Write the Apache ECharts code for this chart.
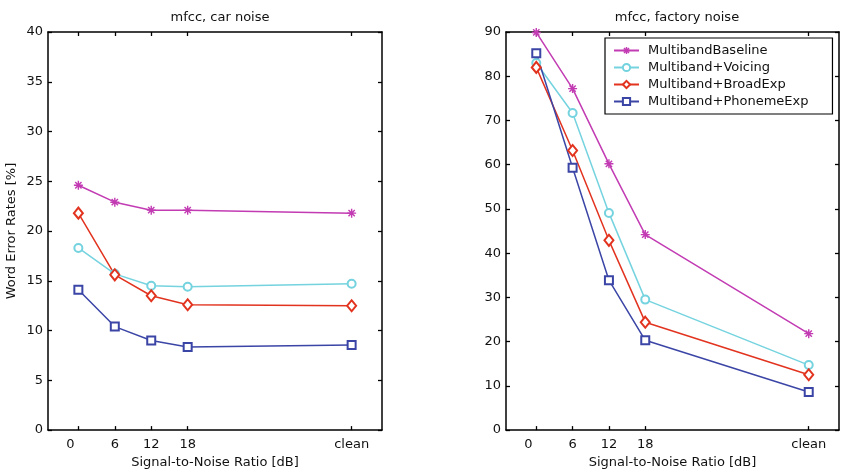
<!DOCTYPE html>
<html>
<head>
<meta charset="utf-8">
<script src="https://cdn.jsdelivr.net/npm/echarts@6/dist/echarts.min.js"></script>
<style>
  html, body { margin: 0; padding: 0; background: #fff; }
  #chart { width: 842px; height: 474px; }
</style>
</head>
<body>
<div id="chart"></div>
<script>
// SNR conditions: tick labels and their positions on the x scale (clean drawn at 45)
const snrLabels = ['0', '6', '12', '18', 'clean'];
const snrPos = [0, 6, 12, 18, 45];

// Word error rates [%], car noise
const carBaseline = [24.6, 22.9, 22.1, 22.1, 21.8];
const carVoicing = [18.3, 15.7, 14.5, 14.4, 14.7];
const carBroadExp = [21.8, 15.6, 13.5, 12.6, 12.5];
const carPhonemeExp = [14.1, 10.4, 9.0, 8.35, 8.55];

// Word error rates [%], factory noise
const factoryBaseline = [89.9, 77.2, 60.2, 44.2, 21.8];
const factoryVoicing = [83.0, 71.7, 49.1, 29.5, 14.7];
const factoryBroadExp = [82.0, 63.2, 42.9, 24.4, 12.5];
const factoryPhonemeExp = [85.2, 59.3, 33.9, 20.3, 8.6];

const seriesNames = ['MultibandBaseline', 'Multiband+Voicing', 'Multiband+BroadExp', 'Multiband+PhonemeExp'];
const seriesColors = ['#c23bb3', '#74d3df', '#e2331f', '#3b45a6'];
const asterisk = 'path://M5,0L5,10M0,5L10,5M1.5,1.5L8.5,8.5M1.5,8.5L8.5,1.5';
const seriesSymbols = [asterisk, 'emptyCircle', 'emptyDiamond', 'emptyRect'];
const seriesSymbolSizes = [9, 8, [9, 11], 8];

const FONT = 'DejaVu Sans';
const yTicksCar = [0, 5, 10, 15, 20, 25, 30, 35, 40];
const yTicksFactory = [0, 10, 20, 30, 40, 50, 60, 70, 80, 90];

function pairs(vals) {
  return vals.map((v, i) => [snrPos[i], v]);
}

function xAxes(gridIndex) {
  const common = {
    gridIndex, type: 'value', min: -5, max: 50,
    axisLine: { show: true, onZero: false, lineStyle: { color: '#000', width: 1.5 } },
    axisTick: { show: true, inside: true, length: 4, customValues: snrPos, lineStyle: { color: '#000', width: 1.3 } },
    splitLine: { show: false }
  };
  return [
    Object.assign({}, common, {
      position: 'bottom',
      name: 'Signal-to-Noise Ratio [dB]', nameLocation: 'middle', nameGap: 25,
      nameTextStyle: { fontFamily: FONT, fontSize: 13, color: '#111' },
      axisLabel: {
        show: true, margin: 8, customValues: snrPos,
        fontFamily: FONT, fontSize: 13, color: '#111',
        formatter: v => {
          const idx = snrPos.indexOf(v);
          if (idx === 0) return '{shift|' + snrLabels[0] + '}';
          return idx >= 0 ? snrLabels[idx] : '';
        },
        rich: { shift: { fontFamily: FONT, fontSize: 13, color: '#111', padding: [0, 16, 0, 0] } }
      }
    }),
    Object.assign({}, common, { position: 'top', axisLabel: { show: false } })
  ];
}

function yAxes(gridIndex, max, ticks, name) {
  const common = {
    gridIndex, type: 'value', min: 0, max,
    axisLine: { show: true, onZero: false, lineStyle: { color: '#000', width: 1.5 } },
    axisTick: { show: true, inside: true, length: 4, customValues: ticks, lineStyle: { color: '#000', width: 1.3 } },
    splitLine: { show: false }
  };
  return [
    Object.assign({}, common, {
      position: 'left',
      name: name || '', nameLocation: 'middle', nameGap: 30,
      nameTextStyle: { fontFamily: FONT, fontSize: 13, color: '#111' },
      axisLabel: { show: true, margin: 5, customValues: ticks, fontFamily: FONT, fontSize: 13, color: '#111' }
    }),
    Object.assign({}, common, { position: 'right', axisLabel: { show: false } })
  ];
}

function lineSeries(nameIdx, vals, xIdx, yIdx) {
  const c = seriesColors[nameIdx];
  return {
    type: 'line', name: seriesNames[nameIdx],
    xAxisIndex: xIdx, yAxisIndex: yIdx,
    data: pairs(vals),
    symbol: seriesSymbols[nameIdx],
    symbolSize: seriesSymbolSizes[nameIdx],
    showAllSymbol: true,
    clip: false,
    animation: false,
    lineStyle: { color: c, width: 1.5 },
    itemStyle: { color: c, borderColor: c, borderWidth: 1.4 },
    emphasis: { disabled: true }
  };
}

const chart = echarts.init(document.getElementById('chart'), null, { renderer: 'canvas' });
chart.setOption({
  backgroundColor: '#fff',
  animation: false,
  title: [
    { text: 'mfcc, car noise', left: 215, top: 6, textAlign: 'center',
      textStyle: { fontFamily: FONT, fontSize: 13, fontWeight: 'normal', color: '#111' } },
    { text: 'mfcc, factory noise', left: 672, top: 6, textAlign: 'center',
      textStyle: { fontFamily: FONT, fontSize: 13, fontWeight: 'normal', color: '#111' } }
  ],
  legend: {
    orient: 'vertical', left: 605, top: 38,
    data: seriesNames.map((n, i) => ({ name: n, itemStyle: { borderColor: seriesColors[i], borderWidth: 1.4 } })),
    itemWidth: 25, itemHeight: 9, itemGap: 4,
    padding: [6, 24, 6, 8],
    borderColor: '#000', borderWidth: 1.2, backgroundColor: '#fff',
    textStyle: { fontFamily: FONT, fontSize: 13, color: '#111', padding: [0, 0, 0, 4] },
    selectedMode: false
  },
  grid: [
    { left: 48, right: 842 - 382, top: 32, bottom: 474 - 431, containLabel: false },
    { left: 506, right: 842 - 839, top: 32, bottom: 474 - 431, containLabel: false }
  ],
  xAxis: [...xAxes(0), ...xAxes(1)],
  yAxis: [...yAxes(0, 40, yTicksCar, 'Word Error Rates [%]'), ...yAxes(1, 90, yTicksFactory)],
  series: [
    lineSeries(0, carBaseline, 0, 0),
    lineSeries(1, carVoicing, 0, 0),
    lineSeries(2, carBroadExp, 0, 0),
    lineSeries(3, carPhonemeExp, 0, 0),
    lineSeries(0, factoryBaseline, 2, 2),
    lineSeries(1, factoryVoicing, 2, 2),
    lineSeries(2, factoryBroadExp, 2, 2),
    lineSeries(3, factoryPhonemeExp, 2, 2)
  ]
});
</script>
</body>
</html>
